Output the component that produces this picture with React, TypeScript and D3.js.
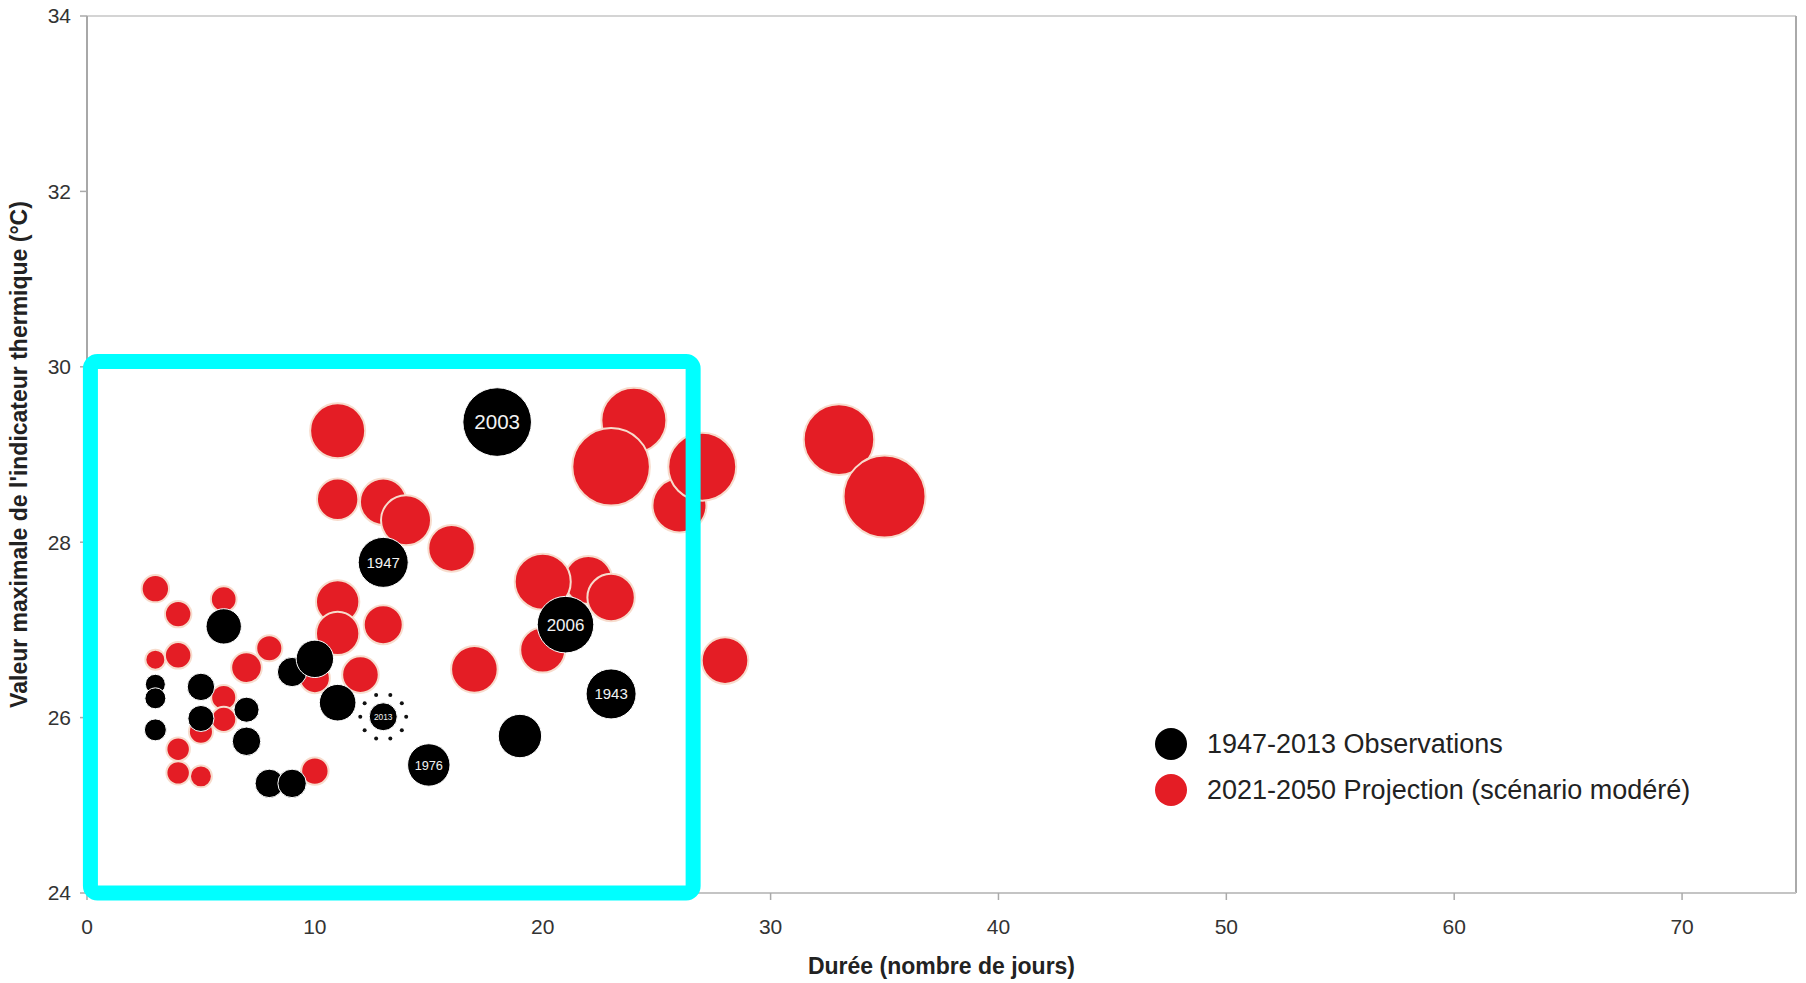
import React from "react";
import * as d3 from "d3";

// ---- Data ----
// Observations 1947-2013: durée (jours), valeur max de l'indicateur (°C), intensité (taille), étiquette
const obsDuree = [3, 3, 3, 5, 5, 6, 7, 7, 8, 9, 9, 10, 11, 13, 13, 15, 18, 19, 21, 23];
const obsTmax = [26.38, 26.22, 25.86, 26.35, 25.99, 27.04, 26.09, 25.73, 25.25, 25.25, 26.52, 26.67, 26.17, 26.01, 27.77, 25.46, 29.37, 25.79, 27.06, 26.27];
const obsIntensite = [4.0, 4.4, 4.8, 7.5, 6.8, 12.5, 6.3, 8.1, 8.1, 8.1, 8.6, 14.0, 13.4, 7.8, 25.0, 18.0, 47.1, 18.8, 32.0, 25.0];
const obsLabels = ["", "", "", "", "", "", "", "", "", "", "", "", "", "2013", "1947", "1976", "2003", "", "2006", "1943"];

// Projection 2021-2050 (scénario modéré)
const projDuree = [3, 3, 4, 4, 4, 4, 5, 5, 6, 6, 6, 7, 8, 10, 10, 11, 11, 11, 11, 12, 13, 13, 14, 16, 17, 22, 20, 20, 23, 24, 23, 26, 27, 28, 33, 35];
const projTmax = [27.47, 26.66, 27.18, 26.71, 25.64, 25.37, 25.84, 25.33, 27.35, 26.23, 25.98, 26.57, 26.79, 26.45, 25.39, 29.27, 28.49, 27.32, 26.96, 26.49, 28.46, 27.06, 28.25, 27.93, 26.55, 27.57, 27.55, 26.77, 27.37, 29.39, 28.86, 28.42, 28.86, 26.65, 29.17, 28.52];
const projIntensite = [7.5, 4.0, 7.0, 7.0, 5.5, 5.5, 5.8, 4.8, 6.6, 6.3, 6.3, 9.4, 6.8, 9.0, 7.5, 30.3, 17.1, 18.8, 18.8, 13.4, 21.7, 15.2, 25.0, 21.7, 21.7, 23.0, 31.4, 20.3, 22.5, 42.3, 60.2, 29.2, 46.2, 21.7, 49.8, 67.2];

const xTicks = [0, 10, 20, 30, 40, 50, 60, 70];
const yTicks = [24, 26, 28, 30, 32, 34];
const legendLabels = ["1947-2013 Observations", "2021-2050 Projection (scénario modéré)"];
const xTitle = "Durée (nombre de jours)";
const yTitle = "Valeur maximale de l'indicateur thermique (°C)";
const highlightRange = { x: [0.15, 26.6], y: [24.0, 30.06] };

const W = 1806;
const H = 983;
const FONT = "'Liberation Sans', Arial, Helvetica, sans-serif";
const RED = "#e41d25";

export default function App() {
  const x = d3.scaleLinear().domain([0, 75]).range([87, 1796]);
  const y = d3.scaleLinear().domain([24, 34]).range([893, 16]);
  const r = d3.scaleSqrt().domain([0, 100]).range([0, 50]);

  const left = x(0);
  const right = x(75);
  const top = y(34);
  const bottom = y(24);

  const obs = obsDuree.map((d, i) => ({ d, t: obsTmax[i], v: obsIntensite[i], label: obsLabels[i] }));
  const proj = projDuree.map((d, i) => ({ d, t: projTmax[i], v: projIntensite[i] }));

  const ring2013 = obs.find((o) => o.label === "2013");
  const ringDots = d3.range(10).map((k) => (k * Math.PI * 2) / 10);

  const hx0 = x(highlightRange.x[0]);
  const hx1 = x(highlightRange.x[1]);
  const hy0 = y(highlightRange.y[1]);
  const hy1 = y(highlightRange.y[0]);

  return (
    <svg
      width={W}
      height={H}
      style={{ position: "absolute", left: 0, top: 0, background: "#fff" }}
      fontFamily={FONT}
    >
      {/* frame */}
      <line x1={left} x2={right} y1={top} y2={top} stroke="#d4d4d4" strokeWidth={2} />
      <line x1={right} x2={right} y1={top} y2={bottom} stroke="#aaa" strokeWidth={2} />
      <line x1={left} x2={right} y1={bottom} y2={bottom} stroke="#c4c4c4" strokeWidth={2} />
      <line x1={left} x2={left} y1={top} y2={bottom} stroke="#a8a8a8" strokeWidth={2} />

      {/* y ticks */}
      {yTicks.map((t) => (
        <g key={"y" + t}>
          <line x1={left - 7} x2={left} y1={y(t)} y2={y(t)} stroke="#aaa" strokeWidth={1.5} />
          <text x={left - 16} y={y(t)} dy="0.35em" textAnchor="end" fontSize={21} fill="#333">
            {t}
          </text>
        </g>
      ))}

      {/* x ticks */}
      {xTicks.map((t) => (
        <g key={"x" + t}>
          <line x1={x(t)} x2={x(t)} y1={bottom} y2={bottom + 7} stroke="#aaa" strokeWidth={1.5} />
          <text x={x(t)} y={927} dy="0.35em" textAnchor="middle" fontSize={21} fill="#333">
            {t}
          </text>
        </g>
      ))}

      {/* axis titles */}
      <text x={(left + right) / 2} y={966} dy="0.35em" textAnchor="middle" fontSize={23} fontWeight="bold" fill="#222">
        {xTitle}
      </text>
      <text
        transform={`translate(19, ${(top + bottom) / 2}) rotate(-90)`}
        textAnchor="middle"
        dy="0.35em"
        fontSize={23}
        fontWeight="bold"
        fill="#222"
      >
        {yTitle}
      </text>

      {/* projection bubbles */}
      {proj.map((p, i) => (
        <circle key={"p" + i} cx={x(p.d)} cy={y(p.t)} r={r(p.v)} fill={RED} stroke="#f7dccd" strokeWidth={2} />
      ))}

      {/* observation bubbles */}
      {obs.map((o, i) => (
        <circle key={"o" + i} cx={x(o.d)} cy={y(o.t)} r={r(o.v)} fill="#000" stroke="#fff" strokeWidth={1} />
      ))}

      {/* dotted ring around 2013 */}
      {ring2013 &&
        ringDots.map((a, k) => (
          <circle
            key={"ring" + k}
            cx={x(ring2013.d) + Math.cos(a) * (r(ring2013.v) + 9)}
            cy={y(ring2013.t) + Math.sin(a) * (r(ring2013.v) + 9)}
            r={2}
            fill="#111"
          />
        ))}

      {/* year labels */}
      {obs
        .filter((o) => o.label)
        .map((o, i) => (
          <text
            key={"l" + i}
            x={x(o.d)}
            y={y(o.t)}
            dy="0.36em"
            textAnchor="middle"
            fontSize={Math.max(7, r(o.v) * 0.6)}
            fill="#f2f2f2"
          >
            {o.label}
          </text>
        ))}

      {/* legend */}
      <circle cx={1171} cy={744} r={16} fill="#000" />
      <text x={1207} y={744} dy="0.35em" fontSize={27} fill="#222">
        {legendLabels[0]}
      </text>
      <circle cx={1171} cy={790} r={16} fill={RED} />
      <text x={1207} y={790} dy="0.35em" fontSize={27} fill="#222">
        {legendLabels[1]}
      </text>

      {/* highlight box */}
      <rect
        x={hx0}
        y={hy0}
        width={hx1 - hx0}
        height={hy1 - hy0}
        rx={7}
        fill="none"
        stroke="#00ffff"
        strokeWidth={15}
      />
    </svg>
  );
}
